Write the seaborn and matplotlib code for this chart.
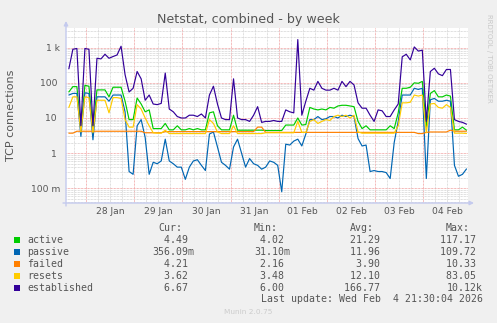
import numpy as np
import pandas as pd
import matplotlib
matplotlib.use("Agg")
import matplotlib.pyplot as plt
import matplotlib.dates as mdates
import matplotlib.ticker as mticker
from matplotlib.patches import Rectangle
import seaborn as sns

# ---- data: TCP connection counts, one sample every 2 hours ----
series_names = ["active", "passive", "failed", "resets", "established"]
series_colors = ["#00CC00", "#0066B3", "#FF8000", "#FFCC00", "#330099"]

active = [55, 78, 78, 5, 85, 80, 5, 63, 63, 63,
          40, 75, 75, 75, 30, 9, 9, 37, 25, 15,
          17, 5, 5, 5, 7, 4.6, 4.6, 6, 4.6, 4.6,
          5, 4.6, 5, 4.6, 4.6, 14, 15, 6, 4.6, 4.6,
          4.6, 12, 4.5, 4.5, 4.5, 4.5, 4.5, 4.5, 4.5, 4.4,
          4.4, 4.4, 4.4, 4.4, 6.3, 6.3, 6.3, 10, 6.3, 6.5,
          20, 18, 17, 18, 17, 20, 19, 22, 23, 23,
          22, 21, 8, 5, 6, 4.6, 4.6, 4.6, 4.6, 4.6,
          6, 5, 14, 70, 70, 75, 100, 97, 110, 5.5,
          50, 60, 40, 40, 45, 42, 4.6, 4.6, 5.5, 4.49]

passive = [45, 50, 50, 3, 52, 50, 2.4, 40, 40, 40,
           30, 45, 45, 45, 15, 0.3, 0.25, 6, 9, 2.8,
           0.25, 0.55, 0.5, 0.6, 2.5, 0.6, 0.5, 0.4, 0.4, 0.18,
           0.4, 0.6, 0.65, 0.45, 0.32, 3.5, 4, 1.5, 0.55, 0.45,
           0.35, 1.5, 2.5, 1.0, 0.4, 0.7, 0.5, 0.45, 0.35, 0.4,
           0.6, 0.55, 0.45, 0.08, 1.8, 1.7, 2.2, 2.5, 1.6, 3.5,
           9, 9, 11, 9, 9.5, 11, 11, 10, 12, 11,
           12, 11, 2.6, 1.6, 1.7, 0.3, 0.32, 0.3, 0.3, 0.28,
           0.19, 2.0, 8, 45, 45, 45, 70, 65, 70, 0.19,
           33, 36, 30, 30, 32, 30, 0.45, 0.22, 0.25, 0.356]

failed = [3.7, 3.7, 4.2, 4.2, 4.2, 4.2, 4.2, 4.2, 4.2, 4.2,
          4.2, 4.2, 4.2, 4.2, 4.2, 4.2, 4.2, 4.2, 4.2, 3.8,
          3.8, 3.8, 3.8, 3.8, 4.1, 4.1, 4.1, 4.1, 4.1, 4.1,
          4.1, 4.1, 4.1, 4.1, 4.1, 4.1, 4.1, 4.1, 4.1, 4.1,
          4.1, 4.1, 4.1, 4.1, 4.1, 4.1, 4.1, 5.5, 5.5, 3.9,
          3.9, 3.9, 3.9, 3.9, 3.9, 3.9, 3.9, 3.9, 3.9, 3.9,
          3.9, 3.9, 3.9, 3.9, 3.9, 3.9, 3.9, 3.9, 3.9, 3.9,
          3.9, 3.9, 3.9, 3.9, 3.9, 3.9, 3.9, 3.9, 3.9, 3.9,
          3.9, 3.9, 3.9, 3.9, 3.9, 3.9, 3.9, 3.6, 3.6, 3.9,
          4.0, 4.0, 4.0, 4.0, 4.0, 4.5, 4.2, 4.2, 4.2, 4.21]

resets = [20, 40, 40, 4, 40, 38, 3.8, 32, 32, 32,
          14, 38, 38, 36, 9, 5.5, 5.5, 24, 18, 10,
          6, 3.8, 3.7, 3.7, 4.5, 3.6, 3.6, 3.6, 3.6, 3.6,
          3.6, 3.6, 3.6, 3.6, 3.6, 9, 7, 4, 3.6, 3.6,
          3.6, 6, 3.6, 3.6, 3.6, 3.6, 3.6, 3.6, 3.6, 3.8,
          3.8, 3.8, 3.8, 3.8, 3.8, 3.8, 3.8, 8, 3.9, 3.9,
          8, 9, 7, 8, 9, 8.5, 11, 12, 11, 12,
          10, 12, 4, 3.7, 3.7, 3.7, 3.7, 3.7, 3.7, 3.7,
          3.7, 3.7, 6, 27, 27, 28, 45, 42, 45, 3.8,
          25, 26, 20, 19, 24, 20, 3.7, 3.7, 3.7, 3.62]

established = [250, 900, 950, 6, 950, 900, 6, 500, 480, 650,
               500, 560, 620, 1100, 170, 55, 70, 210, 130, 32,
               45, 25, 24, 26, 190, 18, 15, 11, 10, 10,
               12, 12, 11, 13, 10, 45, 80, 25, 10, 9,
               9, 130, 10, 9, 9, 8, 12, 21, 7.5, 8,
               8, 8.5, 8, 8, 17, 15, 14, 1700, 12, 30,
               70, 62, 110, 70, 62, 62, 70, 62, 110, 78,
               110, 87, 27, 19, 19, 12, 8, 17, 16, 11,
               11, 17, 25, 550, 650, 450, 1050, 800, 850, 8,
               210, 260, 180, 160, 240, 240, 9, 8, 7.5, 6.67]

# summary table printed under the graph
stat_cur = ["4.49 ", "356.09m", "4.21 ", "3.62 ", "6.67 "]
stat_min = ["4.02 ", "31.10m", "2.16 ", "3.48 ", "6.00 "]
stat_avg = ["21.29 ", "11.96 ", "3.90 ", "12.10 ", "166.77 "]
stat_max = ["117.17 ", "109.72 ", "10.33 ", "83.05 ", "10.12k"]

y_tick_values = [0.1, 1, 10, 100, 1000]
y_tick_labels = ["100 m", "1 ", "10 ", "100 ", "1 k"]
day_labels = ["28 Jan", "29 Jan", "30 Jan", "31 Jan", "01 Feb", "02 Feb", "03 Feb", "04 Feb"]

times = pd.date_range("2026-01-27 15:30", periods=len(active), freq="2h")
wide = pd.DataFrame({"time": times, "active": active, "passive": passive,
                     "failed": failed, "resets": resets, "established": established})
long = wide.melt(id_vars="time", var_name="series", value_name="connections")

# ---- canvas ----
W, H = 497, 323
BG = "#F0F0F0"
TXT = "#555555"
AXIS = "#C4CAEE"

sns.set_style("white")
plt.rcParams["font.family"] = ["DejaVu Sans"]

fig = plt.figure(figsize=(W / 100, H / 100), dpi=100, facecolor=BG)


def fx(px):
    return px / W


def fy(py):
    return 1 - py / H


left, right, top, bottom = 66, 468, 28, 203
ax = fig.add_axes([fx(left), fy(bottom), fx(right - left), (bottom - top) / H])
ax.set_facecolor("white")

sns.lineplot(data=long, x="time", y="connections", hue="series",
             hue_order=series_names, palette=dict(zip(series_names, series_colors)),
             linewidth=0.85, legend=False, ax=ax, estimator=None)

ax.set_yscale("log")
ax.set_ylim(0.0382, 3630)
ax.set_xlim(pd.Timestamp("2026-01-27 14:05"), pd.Timestamp("2026-02-04 22:15"))

# grid: red dotted major lines, grey dotted minor lines
dots = (0, (0.72, 0.72))
ax.yaxis.set_major_locator(mticker.FixedLocator(y_tick_values))
ax.yaxis.set_major_formatter(mticker.FixedFormatter(y_tick_labels))
ax.yaxis.set_minor_locator(mticker.LogLocator(base=10, subs=np.arange(2, 10), numticks=20))
ax.yaxis.set_minor_formatter(mticker.NullFormatter())
ax.xaxis.set_major_locator(mdates.DayLocator())
ax.xaxis.set_major_formatter(mticker.NullFormatter())
ax.xaxis.set_minor_locator(mdates.HourLocator(byhour=[6, 12, 18]))
ax.grid(which="major", color="#F0A0A0", linestyle=dots, linewidth=0.72)
ax.grid(which="minor", color="#D4D4D4", linestyle=dots, linewidth=0.72)
ax.set_axisbelow(True)

ax.tick_params(axis="both", which="major", length=2.2, width=0.7, color="#E8A0A0",
               labelsize=6.6, labelcolor=TXT, pad=2.2)
ax.tick_params(axis="both", which="minor", length=1.5, width=0.7, color="#C8C8C8")
ax.set_xlabel("")
ax.set_ylabel("")
for s in ax.spines.values():
    s.set_visible(False)

# day labels centred on noon
for k, lab in enumerate(day_labels):
    t = pd.Timestamp("2026-01-28 12:00") + pd.Timedelta(days=k)
    ax.text(mdates.date2num(t), -9 / (bottom - top), lab, transform=ax.get_xaxis_transform(),
            ha="center", va="center", fontsize=6.6, color=TXT)

# axes with arrowheads
arrow = dict(arrowstyle="-|>", mutation_scale=6, color=AXIS, lw=1.0, shrinkA=0, shrinkB=0)
ax.annotate("", xy=(left, H - 21), xytext=(left, H - bottom - 3),
            xycoords="figure pixels", textcoords="figure pixels", arrowprops=arrow)
ax.annotate("", xy=(right + 6, H - bottom), xytext=(left - 3, H - bottom),
            xycoords="figure pixels", textcoords="figure pixels", arrowprops=arrow)

# titles
fig.text(fx(248), fy(19), "Netstat, combined - by week", ha="center", va="center",
         fontsize=9.1, color=TXT)
fig.text(fx(11), fy(115.5), "TCP connections", rotation=90, ha="center", va="center",
         fontsize=8.0, color=TXT)
fig.text(fx(488.5), fy(58), "RRDTOOL / TOBI OETIKER", rotation=270, ha="center", va="center",
         fontsize=5.0, color="#C8C8C8")

# legend table
mono = dict(family="DejaVu Sans Mono", fontsize=7.1, color=TXT)
for lab, xr in zip(["Cur:", "Min:", "Avg:", "Max:"], [182, 278, 374, 470]):
    fig.text(fx(xr), fy(228), lab, ha="right", va="center", **mono)
row0, step = 240.1, 11.93
for i, name in enumerate(series_names):
    yc = row0 + i * step
    fig.patches.append(Rectangle((fx(14), fy(yc + 2.7)), 5.5 / W, 5.5 / H,
                                 transform=fig.transFigure, facecolor=series_colors[i],
                                 edgecolor="none"))
    fig.text(fx(27), fy(yc), name, ha="left", va="center", **mono)
    for col, xr in zip([stat_cur, stat_min, stat_avg, stat_max], [194.3, 290, 386, 482.5]):
        fig.text(fx(xr), fy(yc), col[i], ha="right", va="center", **mono)
fig.text(fx(483), fy(299.3), "Last update: Wed Feb  4 21:30:04 2026", ha="right",
         va="center", **mono)
fig.text(fx(248), fy(311.7), "Munin 2.0.75", ha="center", va="center",
         fontsize=5.3, color="#CCCCCC")

fig.savefig("out.png", dpi=100, facecolor=BG)
